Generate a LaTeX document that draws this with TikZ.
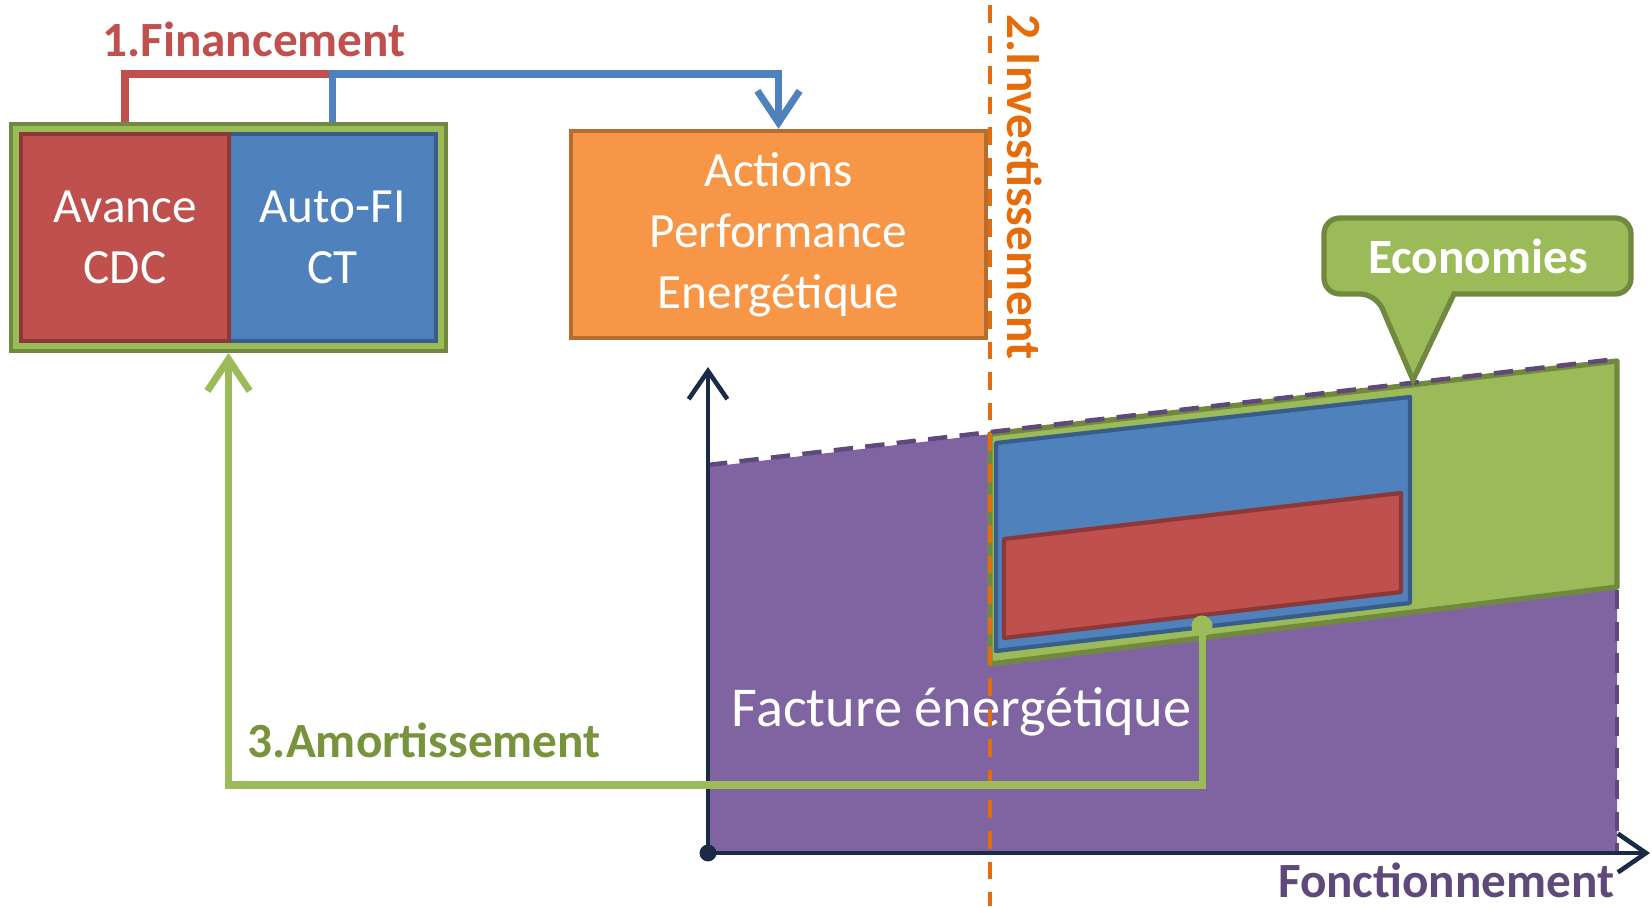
\documentclass[tikz,border=0pt]{standalone}
\usepackage{fontspec}
\setmainfont{Carlito}
\usetikzlibrary{arrows.meta,backgrounds,fit}

\definecolor{finred}{HTML}{C0504D}
\definecolor{finredline}{HTML}{8C3836}
\definecolor{ctblue}{HTML}{4F81BD}
\definecolor{ctblueline}{HTML}{385D8A}
\definecolor{ecogreen}{HTML}{9BBB59}
\definecolor{ecogreenline}{HTML}{71893F}
\definecolor{amortgreen}{HTML}{77933C}
\definecolor{actorange}{HTML}{F79646}
\definecolor{actorangeline}{HTML}{B66D31}
\definecolor{invorange}{HTML}{E46C0A}
\definecolor{factpurple}{HTML}{8064A2}
\definecolor{factpurpleline}{HTML}{5F497A}
\definecolor{axisnavy}{HTML}{1B2A47}

\tikzset{
  finbox/.style={draw,line width=1.2pt,minimum width=2.07cm,minimum height=2.07cm,
    text=white,align=center,font=\fontsize{14}{17.4}\selectfont},
  steplabel/.style={font=\bfseries\fontsize{14}{17}\selectfont,inner sep=0pt},
  flowline/.style={line width=2pt},
  flowarrow/.style={flowline,-{Straight Barb[length=9pt,width=12pt]}},
  axisline/.style={axisnavy,line width=1.3pt,-{Straight Barb[length=8pt,width=11pt]}},
}

\begin{document}
\begin{tikzpicture}[x=0.01cm,y=-0.01cm]
  \useasboundingbox (0,0) rectangle (1652,906);
  %% chart: facture / economies
  \coordinate (origin) at (708,853);
  \coordinate (ytip) at (708,367);
  \coordinate (xtip) at (1650,853);
  \fill[factpurple] (origin) -- (708,467) -- (1617,361) -- (1617,853) -- cycle;
  \filldraw[fill=ecogreen,draw=ecogreenline,line width=1.5pt,line join=round]
    (990,434) -- (1617,361) -- (1617,587) -- (990,664) -- cycle;
  \draw[factpurpleline,line width=1.3pt,dash pattern=on 5.5pt off 3.5pt] (708,465) -- (1617,359);
  \draw[factpurpleline,line width=1.3pt,dash pattern=on 5.5pt off 3.5pt] (1617,590) -- (1617,853);
  \filldraw[fill=ctblue,draw=ctblueline,line width=1.2pt,line join=round]
    (996,443) -- (1410,397) -- (1410,603) -- (996,651) -- cycle;
  \filldraw[fill=finred,draw=finredline,line width=1.2pt,line join=round]
    (1004,539) -- (1401,493) -- (1401,592) -- (1004,638) -- cycle;
  \draw[axisline] (origin) -- (ytip);
  \draw[axisline] (origin) -- (xtip);
  \fill[axisnavy] (origin) circle (2.4pt);
  \node[anchor=west,inner sep=0pt,text=white,font=\fontsize{16}{19}\selectfont] (facture) at (731,712) {Facture énergétique};
  \node[steplabel,text=factpurpleline,anchor=east] (fonct) at (1615,880) {Fonctionnement};
  %% investissement
  \draw[invorange,line width=0.9pt,dash pattern=on 5pt off 3.7pt] (990,5) -- (990,906);
  \node[steplabel,text=invorange,rotate=-90] (invlabel) at (1025,187) {2.Investissement};
  %% callout
  \coordinate (ecotip) at (1413,380);
  \filldraw[fill=ecogreen,draw=ecogreenline,line width=1.5pt]
    (ecotip) -- (1454,294) [rounded corners=4.5pt] -- (1631,294) -- (1631,218) -- (1324,218)
    -- (1324,294) -- (1376,294) [sharp corners] -- cycle;
  \node[steplabel,text=white] (eco) at (1478,256) {Economies};
  %% financement
  \node[finbox,fill=ctblue,draw=ctblueline] (autofi) at (332.5,237.5) {Auto-FI\\CT};
  \node[finbox,fill=finred,draw=finredline,minimum width=2.08cm] (avance) at (125,237.5) {Avance\\CDC};
  \begin{scope}[on background layer]
    \node[draw=ecogreenline,fill=ecogreen,line width=1pt,inner sep=0.08cm,fit=(avance)(autofi)] (fin) {};
  \end{scope}
  \node[draw=actorangeline,fill=actorange,line width=1.2pt,minimum width=4.15cm,minimum height=2.07cm,
    text=white,align=center,font=\fontsize{14}{17.4}\selectfont] (actions) at (778.5,234.5) {Actions\\Performance\\Energétique};
  \node[steplabel,text=finred] (finlabel) at (254,39) {1.Financement};
  \draw[flowline,finred] (avance |- fin.north) |- (autofi |- 0,74);
  \draw[flowarrow,ctblue] (autofi |- fin.north) |- (actions.north |- 0,74) -- (actions.north);
  %% amortissement
  \coordinate (dot) at (1202,626);
  \draw[flowarrow,ecogreen] (dot) |- (fin.south |- 0,785) -- (fin.south);
  \fill[ecogreen] (dot) circle (3pt);
  \node[steplabel,text=amortgreen,anchor=west] (amortlabel) at (247,740) {3.Amortissement};
\end{tikzpicture}
\end{document}
